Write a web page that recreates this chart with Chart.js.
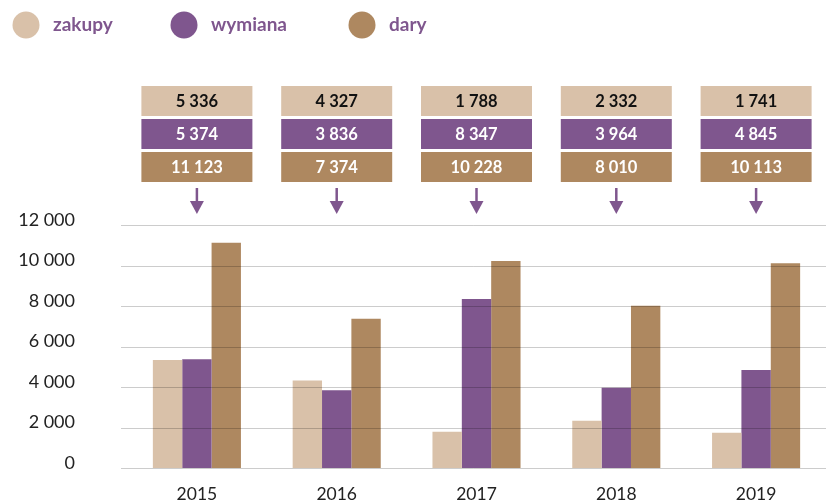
<!DOCTYPE html>
<html>
<head>
<meta charset="utf-8">
<script src="https://cdn.jsdelivr.net/npm/chart.js@4"></script>
<style>
    html, body { margin: 0; padding: 0; background: #fff; overflow: hidden; }
    canvas { display: block; }
</style>
</head>
<body>
<canvas id="chart" width="826" height="504"></canvas>
<script>
// data
const years = ['2015', '2016', '2017', '2018', '2019'];
const zakupy = [5336, 4327, 1788, 2332, 1741];
const wymiana = [5374, 3836, 8347, 3964, 4845];
const dary = [11123, 7374, 10228, 8010, 10113];
const yTicks = [0, 2000, 4000, 6000, 8000, 10000, 12000];

const colors = ['#d9c1a9', '#7f568e', '#ae8860'];
const textColors = ['#111', '#fff', '#fff'];
const FONT = 'Lato, "Open Sans", sans-serif';

const fmt = (v) => String(v).replace(/\B(?=(\d{3})+(?!\d))/g, ' ');

// gridlines on top of the bars
const gridOnTop = {
    id: 'gridOnTop',
    afterDatasetsDraw(chart) {
        const ctx = chart.ctx;
        const y = chart.scales.y;
        ctx.save();
        ctx.strokeStyle = 'rgba(0,0,0,0.2)';
        ctx.lineWidth = 1;
        yTicks.forEach(t => {
            const py = Math.round(y.getPixelForValue(t)) + 0.5;
            ctx.beginPath();
            ctx.moveTo(121, py);
            ctx.lineTo(chart.chartArea.right, py);
            ctx.stroke();
        });
        ctx.restore();
    }
};

// value boxes with arrows above each year + legend
const boxes = {
    id: 'boxes',
    afterDraw(chart) {
        const ctx = chart.ctx;
        const x = chart.scales.x;
        ctx.save();
        ctx.textAlign = 'center';
        ctx.textBaseline = 'middle';
        ctx.font = 'bold 16.5px ' + FONT;
        years.forEach((yr, i) => {
            const cx = x.getPixelForValue(i);
            chart.data.datasets.forEach((ds, j) => {
                const top = 86 + j * 33;
                ctx.fillStyle = colors[j];
                ctx.fillRect(cx - 55.5, top, 111, 30);
                ctx.fillStyle = textColors[j];
                ctx.fillText(fmt(ds.data[i]), cx, top + 16);
            });
            // arrow
            ctx.strokeStyle = colors[1];
            ctx.fillStyle = colors[1];
            ctx.lineWidth = 2.5;
            ctx.beginPath();
            ctx.moveTo(cx, 188);
            ctx.lineTo(cx, 204);
            ctx.stroke();
            ctx.beginPath();
            ctx.moveTo(cx - 7, 201);
            ctx.lineTo(cx + 7, 201);
            ctx.lineTo(cx, 214);
            ctx.closePath();
            ctx.fill();
        });

        // legend
        const legend = [[26, 'zakupy'], [184, 'wymiana'], [362, 'dary']];
        ctx.textAlign = 'left';
        ctx.font = 'bold 19px ' + FONT;
        legend.forEach(([lx, label], j) => {
            ctx.fillStyle = colors[j];
            ctx.beginPath();
            ctx.arc(lx, 25, 13.5, 0, Math.PI * 2);
            ctx.fill();
            ctx.fillStyle = '#7f568e';
            ctx.fillText(label, lx + 27, 25);
        });
        ctx.restore();
    }
};

new Chart(document.getElementById('chart'), {
    type: 'bar',
    data: {
        labels: years,
        datasets: [
            { label: 'zakupy', data: zakupy, backgroundColor: colors[0] },
            { label: 'wymiana', data: wymiana, backgroundColor: colors[1] },
            { label: 'dary', data: dary, backgroundColor: colors[2] }
        ]
    },
    options: {
        responsive: false,
        animation: false,
        layout: { padding: { top: 225, left: 0, right: 0, bottom: 0 } },
        datasets: { bar: { categoryPercentage: 0.63, barPercentage: 1.0 } },
        plugins: {
            legend: { display: false },
            tooltip: { enabled: false }
        },
        scales: {
            x: {
                afterFit(scale) { scale.height = 36; },
                grid: { display: false, drawTicks: false },
                border: { display: false },
                ticks: {
                    padding: 16,
                    color: '#222',
                    font: { family: FONT, size: 17.5 }
                }
            },
            y: {
                min: 0,
                max: 12000,
                afterFit(scale) {
                    scale.width = 127;
                    scale.paddingTop = 0;
                    scale.paddingBottom = 0;
                },
                afterBuildTicks(scale) { scale.ticks = yTicks.map(v => ({ value: v })); },
                grid: { display: false, drawTicks: false },
                border: { display: false },
                ticks: {
                    padding: 52,
                    labelOffset: -5,
                    color: '#222',
                    font: { family: FONT, size: 18 },
                    callback: (v) => fmt(v)
                }
            }
        }
    },
    plugins: [gridOnTop, boxes]
});
</script>
</body>
</html>
